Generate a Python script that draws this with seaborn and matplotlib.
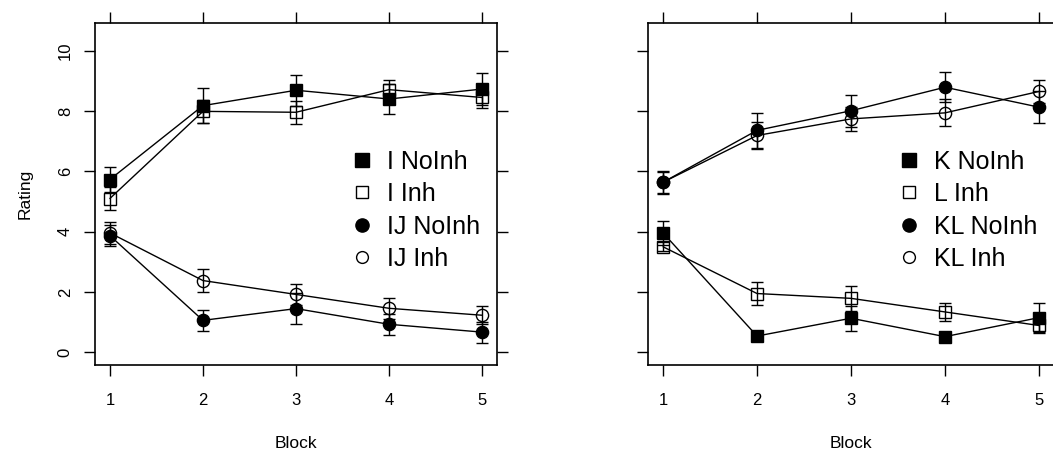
import numpy as np
import pandas as pd
import matplotlib
matplotlib.use('Agg')
import matplotlib.pyplot as plt
from matplotlib.lines import Line2D
import seaborn as sns

# ------------------------------------------------------------------ #
# Data
# ------------------------------------------------------------------ #
blocks = [1, 2, 3, 4, 5]

left_labels = ['I NoInh', 'I Inh', 'IJ NoInh', 'IJ Inh']
i_noinh = [5.73, 8.18, 8.69, 8.40, 8.73]
i_noinh_se = [0.42, 0.58, 0.52, 0.50, 0.53]
i_inh = [5.10, 7.99, 7.96, 8.71, 8.45]
i_inh_se = [0.37, 0.39, 0.38, 0.33, 0.35]
ij_noinh = [3.87, 1.06, 1.45, 0.93, 0.67]
ij_noinh_se = [0.35, 0.34, 0.52, 0.35, 0.35]
ij_inh = [3.96, 2.38, 1.92, 1.46, 1.23]
ij_inh_se = [0.36, 0.38, 0.36, 0.35, 0.30]

right_labels = ['K NoInh', 'L Inh', 'KL NoInh', 'KL Inh']
k_noinh = [3.96, 0.54, 1.13, 0.52, 1.15]
k_noinh_se = [0.39, 0.12, 0.42, 0.12, 0.50]
l_inh = [3.50, 1.95, 1.79, 1.34, 0.89]
l_inh_se = [0.15, 0.39, 0.41, 0.30, 0.20]
kl_noinh = [5.64, 7.36, 8.01, 8.79, 8.13]
kl_noinh_se = [0.38, 0.58, 0.53, 0.50, 0.53]
kl_inh = [5.64, 7.19, 7.74, 7.94, 8.65]
kl_inh_se = [0.35, 0.46, 0.41, 0.45, 0.37]

# marker shape / fill for the four series in each panel
MARKERS = [('s', 'black'), ('s', 'none'), ('o', 'black'), ('o', 'none')]

sns.set_style('white')
plt.rcParams['font.family'] = ['Liberation Sans', 'DejaVu Sans']
plt.rcParams['text.color'] = 'black'
plt.rcParams['axes.labelcolor'] = 'black'
plt.rcParams['xtick.color'] = 'black'
plt.rcParams['ytick.color'] = 'black'

fig = plt.figure(figsize=(10.53, 4.5), dpi=100)
W, H = 1053, 450
ax_l = fig.add_axes([95 / W, 1 - 365 / H, 402 / W, 342 / H])
ax_r = fig.add_axes([648 / W, 1 - 365 / H, 406 / W, 342 / H])


def draw_panel(ax, labels, series, errs, show_y, leg_x):
    for lab, vals, se, (m, fc) in zip(labels, series, errs, MARKERS):
        df = pd.DataFrame({'Block': blocks, 'Rating': vals})
        ax.errorbar(df['Block'], df['Rating'], yerr=se, fmt='none',
                    ecolor='black', elinewidth=1, capsize=4.3, capthick=1,
                    zorder=2)
        sns.lineplot(data=df, x='Block', y='Rating', ax=ax, color='black',
                     lw=1, marker=m, markersize=9.3 if m == 's' else 8.8,
                     markerfacecolor=fc, markeredgecolor='black',
                     markeredgewidth=1, zorder=3)

    ax.set_xlim(0.84, 5.16)
    ax.set_ylim(-0.42, 10.92)
    ax.set_xticks(blocks)
    ax.set_yticks([0, 2, 4, 6, 8, 10])
    ax.tick_params(axis='both', which='both', direction='out', length=8,
                   width=1, color='black', labelsize=12, labelcolor='black',
                   top=True, right=True, left=True, bottom=True,
                   labeltop=False, labelright=False)
    ax.tick_params(axis='x', pad=12)
    ax.tick_params(axis='y', pad=8)
    for lbl in ax.get_yticklabels():
        lbl.set_rotation(90)
        lbl.set_va('center')
    for s in ax.spines.values():
        s.set_visible(True)
        s.set_linewidth(1.2)
        s.set_color('black')
    ax.set_xlabel('Block', fontsize=12.5, labelpad=20)
    if show_y:
        ax.set_ylabel('Rating', fontsize=12.5, labelpad=18)
    else:
        ax.set_ylabel('')
        ax.set_yticklabels([])

    handles = [Line2D([], [], linestyle='none', marker=m,
                      markersize=9.5 if fc == 'black' else 8.5,
                      markerfacecolor=fc, markeredgecolor='black',
                      markeredgewidth=1)
               for m, fc in MARKERS]
    ax.legend(handles, labels, frameon=False, fontsize=18,
              loc='upper left', bbox_to_anchor=(leg_x, 0.63),
              borderpad=0, borderaxespad=0, handlelength=0.8,
              handletextpad=0.6, labelspacing=0.34)


draw_panel(ax_l, left_labels,
           [i_noinh, i_inh, ij_noinh, ij_inh],
           [i_noinh_se, i_inh_se, ij_noinh_se, ij_inh_se], True, 0.64)
draw_panel(ax_r, right_labels,
           [k_noinh, l_inh, kl_noinh, kl_inh],
           [k_noinh_se, l_inh_se, kl_noinh_se, kl_inh_se], False, 0.617)

fig.savefig('out.png', dpi=100)
